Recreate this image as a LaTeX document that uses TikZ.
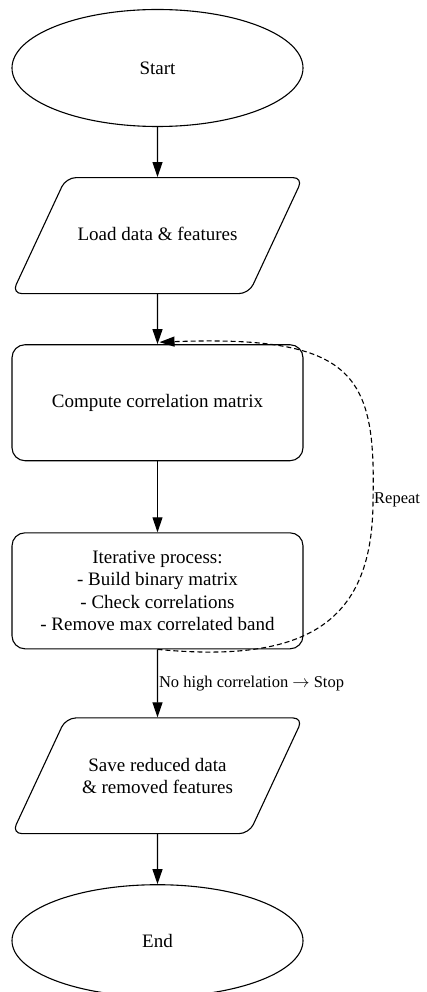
\documentclass[tikz,border=0pt]{standalone}
\usepackage{fontspec}
\setmainfont{Liberation Serif}
\usepackage{tikz}
\usetikzlibrary{arrows.meta,shapes.geometric,positioning}
\tikzset{
  every picture/.style={line join=round, >={Triangle[length=15pt,width=10pt]}},
  base/.style={draw, line width=1.1pt, align=center, inner sep=0pt,
    minimum width=291pt, font=\fontsize{19}{22.3}\selectfont},
  terminal/.style={base, ellipse},
  io/.style={base, trapezium, trapezium left angle=65, trapezium right angle=115,
    trapezium stretches body, rounded corners=10pt},
  process/.style={base, rectangle, rounded corners=13pt, minimum height=116pt},
  flow/.style={->, line width=1.1pt},
  loopline/.style={->, line width=1.1pt, dash pattern=on 5pt off 3pt},
  edgelabel/.style={font=\fontsize{16.5}{19}\selectfont, inner sep=1pt},
}

\begin{document}
\begin{tikzpicture}[x=1pt,y=1pt]
\useasboundingbox (0,0) rectangle (427,-992);
\node[terminal, minimum height=117pt] (start) at (157.5,-68) {Start};
\node[io, text height=13.5pt, text depth=4.5pt, inner ysep=49pt, below=50pt of start] (load) {Load data \& features};
\node[process, below=50pt of load] (compute) {Compute correlation matrix};
\node[process, below=71pt of compute] (iter) {Iterative process:\\- Build binary matrix\\- Check correlations\\- Remove max correlated band};
\node[io, inner ysep=40pt, below=68pt of iter] (save) {Save reduced data\\\& removed features};
\node[terminal, minimum height=112pt, below=50pt of save] (end) {End};
\coordinate (rep) at (373,-500);
\draw[flow] (start) -- (load);
\draw[flow] (load) -- (compute);
\draw[flow] (compute) -- (iter);
\draw[flow] (iter) -- node[edgelabel, right]{No high correlation $\rightarrow$ Stop} (save);
\draw[flow] (save) -- (end);
% loop back
\draw[loopline] (iter.south) .. controls (310,-664) and (373,-620) .. (rep)
  .. controls (376,-375) and (355,-335) .. ([xshift=2pt,yshift=2pt]compute.north);
\node[edgelabel, anchor=west] at (rep) {Repeat};
\end{tikzpicture}
\end{document}
